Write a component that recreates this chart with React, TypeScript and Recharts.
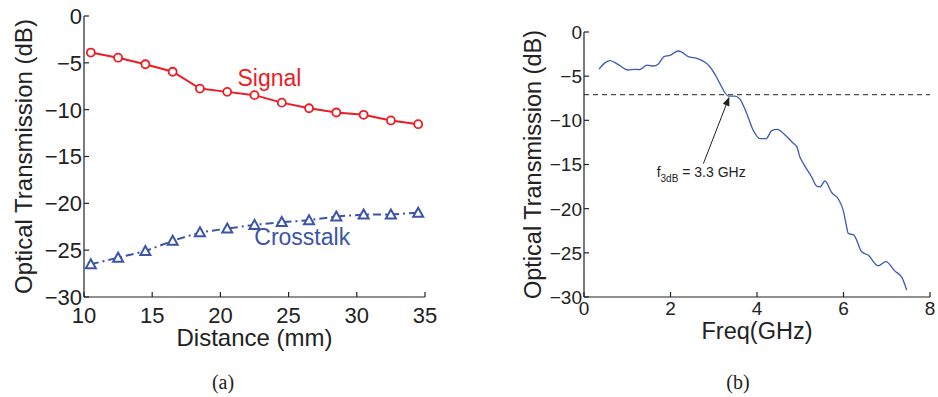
import { LineChart, Line, XAxis, YAxis, ReferenceLine, ReferenceDot, Label } from "recharts";

const FONT = "'Liberation Sans', Arial, Helvetica, sans-serif";

// (a) distance sweep
const distanceMm = [10.5, 12.5, 14.5, 16.5, 18.5, 20.5, 22.5, 24.5, 26.5, 28.5, 30.5, 32.5, 34.5];
const signalDb = [-3.9, -4.45, -5.15, -5.95, -7.75, -8.1, -8.45, -9.25, -9.85, -10.3, -10.55, -11.15, -11.55];
const crosstalkDb = [-26.5, -25.8, -25.1, -24.0, -23.1, -22.7, -22.3, -22.0, -21.8, -21.4, -21.2, -21.2, -21.0];
const distanceTicks = [10, 15, 20, 25, 30, 35];

// (b) frequency response
const freqGHz = [
  0.35, 0.49, 0.6, 0.72, 0.83, 1.02, 1.18, 1.29, 1.46, 1.6, 1.72, 1.85, 1.99, 2.18, 2.26, 2.41, 2.61, 2.8, 2.91,
  3.05, 3.14, 3.34, 3.49, 3.61, 3.76, 3.91, 4.07, 4.21, 4.34, 4.47, 4.65, 4.84, 4.92, 4.99, 5.07, 5.26, 5.38, 5.46,
  5.57, 5.73, 5.88, 6.0, 6.07, 6.11, 6.24, 6.42, 6.57, 6.8, 6.98, 7.19, 7.35, 7.46,
];
const responseDb = [
  -4.19, -3.47, -3.25, -3.47, -3.81, -4.3, -4.23, -4.26, -3.74, -3.85, -3.62, -2.79, -2.64, -2.15, -2.27, -2.79,
  -2.98, -3.43, -3.93, -4.98, -5.81, -7.25, -7.25, -7.62, -9.21, -11.1, -12.08, -12.08, -11.17, -11.02, -11.66,
  -12.6, -12.98, -14.12, -14.87, -16.39, -17.44, -17.52, -16.87, -18.2, -18.9, -20.3, -22.0, -22.8, -22.99, -24.88,
  -25.25, -26.46, -26.0, -27.07, -27.78, -29.2,
];
const freqTicks = [0, 2, 4, 6, 8];
const dbTicks = [-30, -25, -20, -15, -10, -5, 0];
const threeDbLevel = -7.1;
const arrowFrom = { x: 2.76, y: -14.9 };
const arrowTo = { x: 3.36, y: -7.33 };

const sweepData = distanceMm.map((d, i) => ({ distance: d, signal: signalDb[i], crosstalk: crosstalkDb[i] }));
const responseData = freqGHz.map((f, i) => ({ freq: f, db: responseDb[i] }));

const RED = "#ec1c24";
const BLUE = "#3a55a8";
const CURVE = "#3a5cb8";
const AXIS = "#222";

const minus = (v: number) => String(v).replace("-", "\u2212");

function Triangle(props: any) {
  const { cx, cy, index } = props;
  if (cx == null || cy == null) return null;
  const s = 5;
  return (
    <polygon
      key={`tri-${index}`}
      points={`${cx},${cy - s} ${cx - s},${cy + s * 0.8} ${cx + s},${cy + s * 0.8}`}
      fill="#fff"
      stroke={BLUE}
      strokeWidth={2}
    />
  );
}

function Arrow(props: any) {
  const { x1, y1, x2, y2 } = props;
  const dx = x2 - x1;
  const dy = y2 - y1;
  const len = Math.sqrt(dx * dx + dy * dy) || 1;
  const ux = dx / len;
  const uy = dy / len;
  const hl = 9;
  const hw = 3.5;
  const bx = x2 - ux * hl;
  const by = y2 - uy * hl;
  return (
    <g>
      <line x1={x1} y1={y1} x2={bx} y2={by} stroke="#222" strokeWidth={1} />
      <polygon
        points={`${x2},${y2} ${bx - uy * hw},${by + ux * hw} ${bx + uy * hw},${by - ux * hw}`}
        fill="#222"
      />
    </g>
  );
}

const bottomTick = (size: number) => (p: any) => (
  <text key={`b-${p.index}`} x={p.x} y={p.y} dy="0.71em" textAnchor="middle"
    style={{ fontSize: `${size}px`, fontFamily: FONT, fill: AXIS }}>
    {minus(p.payload.value)}
  </text>
);
const leftTick = (size: number) => (p: any) => (
  <text key={`l-${p.index}`} x={p.x} y={p.y} dy="0.36em" textAnchor="end"
    style={{ fontSize: `${size}px`, fontFamily: FONT, fill: AXIS }}>
    {minus(p.payload.value)}
  </text>
);

function SweepChart() {
  return (
    <LineChart width={480} height={397} data={sweepData} margin={{ top: 16, right: 55, bottom: 40, left: 0 }}>
      <XAxis
        dataKey="distance"
        type="number"
        domain={[10, 35]}
        ticks={distanceTicks}
        height={60}
        tickSize={-5}
        tickMargin={15}
        tick={bottomTick(22)}
        stroke={AXIS}
        strokeWidth={1.2}
      >
        <Label value="Distance (mm)" position="insideTop" offset={32} style={{ fontSize: 24, fill: AXIS, fontFamily: FONT }} />
      </XAxis>
      <XAxis xAxisId="top" orientation="top" dataKey="distance" type="number" domain={[10, 35]} ticks={distanceTicks}
        height={0} tickSize={-5} tick={false} stroke={AXIS} strokeWidth={1.2} />
      <YAxis
        type="number"
        domain={[-30, 0]}
        ticks={dbTicks}
        width={84}
        tickSize={-5}
        tickMargin={7}
        tick={leftTick(22)}
        stroke={AXIS}
        strokeWidth={1.2}
      >
        <Label value="Optical Transmission (dB)" angle={-90} position="center" dx={-19} style={{ fontSize: 24, fill: AXIS, fontFamily: FONT }} />
      </YAxis>
      <YAxis yAxisId="r" orientation="right" type="number" domain={[-30, 0]} ticks={dbTicks} width={0}
        tickSize={-5} tick={false} stroke={AXIS} strokeWidth={1.2} />
      <Line dataKey="signal" stroke={RED} strokeWidth={2} isAnimationActive={false}
        dot={{ r: 4, stroke: RED, strokeWidth: 1.8, fill: "#fff" }} />
      <Line dataKey="crosstalk" stroke={BLUE} strokeWidth={2} strokeDasharray="8 4 2 4" isAnimationActive={false}
        dot={Triangle} />
      <ReferenceDot x={23.6} y={-6.55} r={0}
        shape={(p: any) => (
          <text x={p.cx} y={p.cy} dy="0.36em" textAnchor="middle" fill={RED} fontSize={23} fontFamily={FONT}>Signal</text>
        )} />
      <ReferenceDot x={26.0} y={-23.6} r={0}
        shape={(p: any) => (
          <text x={p.cx} y={p.cy} dy="0.36em" textAnchor="middle" fill={BLUE} fontSize={23} fontFamily={FONT}>Crosstalk</text>
        )} />
    </LineChart>
  );
}

function ResponseChart() {
  return (
    <LineChart width={438} height={397} data={responseData} margin={{ top: 32, right: 8, bottom: 40, left: 0 }}>
      <XAxis
        dataKey="freq"
        type="number"
        domain={[0, 8]}
        ticks={freqTicks}
        height={60}
        tickSize={-5}
        tickMargin={10}
        tick={bottomTick(19)}
        stroke={AXIS}
        strokeWidth={1.2}
      >
        <Label value="Freq(GHz)" position="insideTop" offset={25} style={{ fontSize: 23.5, fill: AXIS, fontFamily: FONT }} />
      </XAxis>
      <XAxis xAxisId="top" orientation="top" dataKey="freq" type="number" domain={[0, 8]} ticks={freqTicks}
        height={0} tickSize={-5} tick={false} stroke={AXIS} strokeWidth={1.2} />
      <YAxis
        type="number"
        domain={[-30, 0]}
        ticks={dbTicks}
        width={84}
        tickSize={-5}
        tickMargin={7}
        tick={leftTick(19)}
        stroke={AXIS}
        strokeWidth={1.2}
      >
        <Label value="Optical Transmission (dB)" angle={-90} position="center" dx={-9} style={{ fontSize: 23.5, fill: AXIS, fontFamily: FONT }} />
      </YAxis>
      <YAxis yAxisId="r" orientation="right" type="number" domain={[-30, 0]} ticks={dbTicks} width={0}
        tickSize={-5} tick={false} stroke={AXIS} strokeWidth={1.2} />
      <ReferenceLine y={threeDbLevel} stroke="#222" strokeWidth={1} strokeDasharray="5 4" />
      <Line dataKey="db" type="monotone" stroke={CURVE} strokeWidth={1.3} dot={false} isAnimationActive={false} />
      <ReferenceLine segment={[arrowFrom, arrowTo]} shape={Arrow} />
      <ReferenceDot x={1.68} y={-16.4} r={0}
        shape={(p: any) => (
          <text x={p.cx} y={p.cy} fill="#222" fontSize={14} fontFamily={FONT}>
            f<tspan fontSize={10} dy={5}>3dB</tspan>
            <tspan dy={-5}> = 3.3 GHz</tspan>
          </text>
        )} />
    </LineChart>
  );
}

export default function App() {
  const caption = {
    position: "absolute" as const,
    top: 371,
    fontFamily: "'Liberation Serif', 'Times New Roman', serif",
    fontSize: 20,
    color: "#222",
    width: 60,
    textAlign: "center" as const,
  };
  return (
    <div style={{ position: "absolute", left: 0, top: 0, width: 938, height: 397, background: "#fff" }}>
      <div style={{ position: "absolute", left: 0, top: 0 }}>
        <SweepChart />
      </div>
      <div style={{ position: "absolute", left: 500, top: 0 }}>
        <ResponseChart />
      </div>
      <div style={{ ...caption, left: 193 }}>(a)</div>
      <div style={{ ...caption, left: 708 }}>(b)</div>
    </div>
  );
}
